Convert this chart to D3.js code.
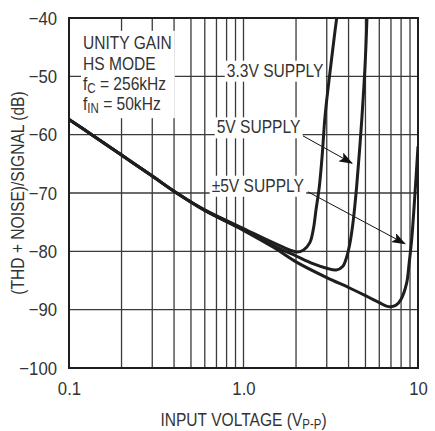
<!DOCTYPE html>
<html>
<head>
<meta charset="utf-8">
<script src="https://cdn.jsdelivr.net/npm/d3@7"></script>
<style>
  body { margin: 0; background: #fff; }
  text { font-family: "Liberation Sans", Arial, sans-serif; font-size: 19px; fill: #333; }
</style>
</head>
<body>
<div id="chart"></div>
<script>
// THD+N vs input voltage, three supply curves
const volts33 = [0.1, 0.135, 0.2, 0.3, 0.414, 0.6, 1.0, 1.5, 2.0, 2.2, 2.4, 2.52, 2.6, 2.72, 2.83, 2.92, 3.0, 3.16, 3.32, 3.42];
const db33    = [-57.4, -60, -63.5, -67.1, -70, -72.9, -76.1, -78.6, -80.1, -79.8, -78.5, -76, -73, -68.9, -63.2, -57.5, -54, -48.3, -43, -40];

const volts5 = [0.1, 0.135, 0.2, 0.3, 0.414, 0.6, 1.0, 1.5, 2.0, 2.5, 3.0, 3.4, 3.7, 3.9, 4.08, 4.26, 4.45, 4.61, 4.76, 4.97, 5.1];
const db5    = [-57.4, -60, -63.5, -67.1, -70, -73, -76.3, -79.1, -80.8, -82.1, -82.9, -83.2, -82.6, -81, -78.5, -74.6, -68.9, -63.2, -57.5, -48.3, -40];

const voltsPM5 = [0.1, 0.135, 0.2, 0.3, 0.414, 0.6, 1.0, 1.5, 2.0, 3.0, 4.0, 5.0, 6.0, 6.6, 7.0, 7.5, 8.0, 8.6, 8.9, 9.2, 9.6, 10];
const dbPM5    = [-57.4, -60, -63.5, -67.1, -70, -73, -76.4, -79.4, -81.8, -84.5, -86.2, -87.6, -88.8, -89.4, -89.5, -89.2, -88.2, -85.5, -82, -78, -70.3, -62];

const xGrid = [0.2, 0.3, 0.4, 0.5, 0.6, 0.7, 0.8, 0.9, 1, 2, 3, 4, 5, 6, 7, 8, 9];
const yGrid = [-50, -60, -70, -80, -90];
const xTicks = [0.1, 1, 10];
const xTickLabels = ['0.1', '1.0', '10'];
const yTicks = [-40, -50, -60, -70, -80, -90, -100];

// curve labels [text, volts, dB] and arrows [fromV, fromDb, toV, toDb]
const labels = [['3.3V SUPPLY', 0.802, -50.06], ['5V SUPPLY', 0.702, -59.77], ['\u00B15V SUPPLY', 0.657, -69.78]];
const arrows = [[2.19, -60.2, 4.19, -64.9], [2.34, -69.8, 8.43, -78.7]];

// condition lines: [main, subscript, rest]
const notes = [['UNITY GAIN', '', ''], ['HS MODE', '', ''], ['f', 'C', ' = 256kHz'], ['f', 'IN', ' = 50kHz']];

const W = 435, H = 431;
const margin = {top: 18, right: 17, bottom: 63, left: 69};
const width = W - margin.left - margin.right;
const height = H - margin.top - margin.bottom;
const squeeze = 0.82;

// squeeze single-run text horizontally to mimic the condensed face
function narrow(sel, k) {
  sel.each(function() {
    const len = this.getComputedTextLength();
    d3.select(this).attr('textLength', len * (k || squeeze)).attr('lengthAdjust', 'spacingAndGlyphs');
  });
}

const svg = d3.select('#chart').append('svg')
    .attr('width', W)
    .attr('height', H);

svg.append('defs').append('marker')
    .attr('id', 'head')
    .attr('markerUnits', 'userSpaceOnUse')
    .attr('markerWidth', 14)
    .attr('markerHeight', 10)
    .attr('refX', 13)
    .attr('refY', 5)
    .attr('orient', 'auto')
  .append('path')
    .attr('d', 'M0,0 L14,5 L0,10 L3,5 Z')
    .attr('fill', '#111');

const chart = svg.append('g')
    .attr('transform', `translate(${margin.left},${margin.top})`);

const x = d3.scaleLog().domain([0.1, 10]).range([0, width]);
const y = d3.scaleLinear().domain([-100, -40]).range([height, 0]);

// gridlines
chart.selectAll('.vgrid')
    .data(xGrid)
    .join('line')
    .attr('class', 'vgrid')
    .attr('x1', d => x(d)).attr('x2', d => x(d))
    .attr('y1', 0).attr('y2', height)
    .attr('stroke', '#3a3a3a')
    .attr('stroke-width', 1.3);

chart.selectAll('.hgrid')
    .data(yGrid)
    .join('line')
    .attr('class', 'hgrid')
    .attr('x1', 0).attr('x2', width)
    .attr('y1', d => y(d)).attr('y2', d => y(d))
    .attr('stroke', '#3a3a3a')
    .attr('stroke-width', 1.3);

// condition text block, white behind it
const note = chart.append('g');
note.append('rect').attr('fill', '#fff');
notes.forEach(([a, sub, rest], i) => {
  const t = note.append('text')
      .attr('transform', `translate(14,${31.3 + i * 20.2}) scale(${squeeze},1)`);
  t.append('tspan').text(a);
  if (sub) {
    t.append('tspan').attr('font-size', 14).attr('dy', 3).text(sub);
    t.append('tspan').attr('dy', -3).text(rest);
  }
});
const nb = note.node().getBBox();
note.select('rect')
    .attr('x', nb.x - 2).attr('y', nb.y - 1)
    .attr('width', nb.width + 5).attr('height', nb.height + 3);

// curve labels with white boxes
labels.forEach(([t, v, db]) => {
  const g = chart.append('g');
  const tx = g.append('text').attr('x', x(v)).attr('y', y(db)).text(t);
  narrow(tx);
  const b = tx.node().getBBox();
  g.insert('rect', 'text')
      .attr('x', b.x - 2).attr('y', b.y + 1)
      .attr('width', b.width + 4).attr('height', b.height)
      .attr('fill', '#fff');
});

// arrows
chart.selectAll('.arrow')
    .data(arrows)
    .join('line')
    .attr('class', 'arrow')
    .attr('x1', d => x(d[0])).attr('y1', d => y(d[1]))
    .attr('x2', d => x(d[2])).attr('y2', d => y(d[3]))
    .attr('stroke', '#111')
    .attr('stroke-width', 1)
    .attr('marker-end', 'url(#head)');

// curves
const line = d3.line()
    .x(d => x(d[0]))
    .y(d => y(d[1]))
    .curve(d3.curveCatmullRom.alpha(0.5));

const series = [d3.zip(voltsPM5, dbPM5), d3.zip(volts5, db5), d3.zip(volts33, db33)];

chart.append('clipPath').attr('id', 'clip')
  .append('rect').attr('width', width).attr('height', height);

chart.append('g')
    .attr('clip-path', 'url(#clip)')
  .selectAll('path')
    .data(series)
    .join('path')
    .attr('d', line)
    .attr('fill', 'none')
    .attr('stroke', '#1e1e1e')
    .attr('stroke-width', 3)
    .attr('stroke-linejoin', 'round');

// frame
chart.append('rect')
    .attr('width', width).attr('height', height)
    .attr('fill', 'none')
    .attr('stroke', '#1e1e1e')
    .attr('stroke-width', 2);

// axes (labels only)
const yAxis = d3.axisLeft(y).tickValues(yTicks).tickSize(0).tickPadding(12);
chart.append('g').call(yAxis)
    .call(g => g.select('.domain').remove())
    .call(g => g.selectAll('text').attr('font-size', 19).attr('font-family', null).attr('fill', '#333'))
    .call(g => narrow(g.selectAll('text'), 0.88));

const xAxis = d3.axisBottom(x).tickValues(xTicks).tickSize(0).tickPadding(14)
    .tickFormat((d, i) => xTickLabels[i]);
chart.append('g').attr('transform', `translate(0,${height})`).call(xAxis)
    .call(g => g.select('.domain').remove())
    .call(g => g.selectAll('text').attr('font-size', 19).attr('font-family', null).attr('fill', '#333'))
    .call(g => narrow(g.selectAll('text'), 0.88));

// axis titles
const xt = svg.append('text')
    .attr('transform', `translate(${margin.left + x(1)},426) scale(${squeeze},1)`)
    .attr('text-anchor', 'middle');
xt.append('tspan').text('INPUT VOLTAGE (V');
xt.append('tspan').attr('font-size', 14).attr('dy', 3).text('P-P');
xt.append('tspan').attr('dy', -3).text(')');

const yt = svg.append('text')
    .attr('transform', `translate(24,${margin.top + height / 2}) rotate(-90)`)
    .attr('text-anchor', 'middle')
    .text('(THD + NOISE)/SIGNAL (dB)');
narrow(yt);
</script>
</body>
</html>
